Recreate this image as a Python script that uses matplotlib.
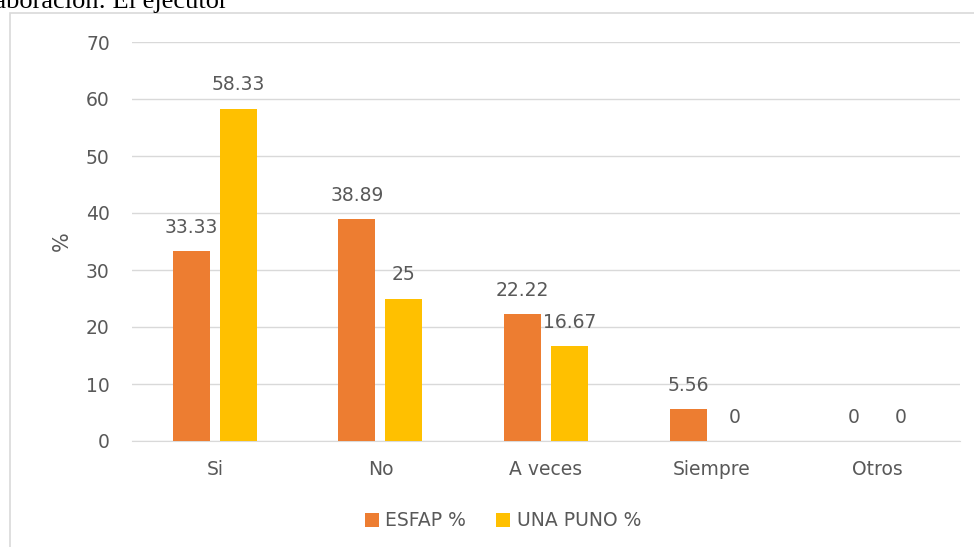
import numpy as np
from matplotlib import pyplot as plt
from matplotlib.patches import Rectangle

categorias = ['Si', 'No', 'A veces', 'Siempre', 'Otros']
esfap = [33.33, 38.89, 22.22, 5.56, 0]
una_puno = [58.33, 25, 16.67, 0, 0]
etiquetas_esfap = ['33.33', '38.89', '22.22', '5.56', '0']
etiquetas_una = ['58.33', '25', '16.67', '0', '0']

gris = '#595959'
naranja = '#ED7D31'
amarillo = '#FFC000'

plt.rcParams['font.family'] = ['DejaVu Sans']

fig = plt.figure(figsize=(9.74, 5.47), dpi=100)

# marco del grafico
fig.patches.append(Rectangle((10 / 974, -0.1), 1.2, 1 - 13 / 547 + 0.1,
                             transform=fig.transFigure, fill=False,
                             edgecolor='#d9d9d9', linewidth=1.2))
fig.text(228 / 974, 1 - 8 / 547, 'Elaboración: El ejecutor', ha='right',
         va='baseline', fontsize=19, family='Liberation Serif', color='black')

ax = fig.add_axes([132 / 974, 1 - 441 / 547, 828 / 974, 399 / 547])

x = np.arange(len(categorias))
ancho = 0.223
desp = 0.142
ax.bar(x - desp, esfap, ancho, color=naranja, label='ESFAP %', zorder=3)
ax.bar(x + desp, una_puno, ancho, color=amarillo, label='UNA PUNO %', zorder=3)

for i in range(len(categorias)):
    ax.annotate(etiquetas_esfap[i], (x[i] - desp, esfap[i]), xytext=(0, 17),
                textcoords='offset points', ha='center', va='center',
                fontsize=13.5, color=gris)
    ax.annotate(etiquetas_una[i], (x[i] + desp, una_puno[i]), xytext=(0, 17),
                textcoords='offset points', ha='center', va='center',
                fontsize=13.5, color=gris)

ax.set_xlim(-0.5, len(categorias) - 0.5)
ax.set_ylim(0, 70)
ax.set_yticks(range(0, 71, 10))
ax.set_xticks(x)
ax.set_xticklabels(categorias)
ax.tick_params(axis='both', length=0, labelsize=13.5, labelcolor=gris)
ax.tick_params(axis='y', pad=16)
ax.tick_params(axis='x', pad=14)
ax.grid(axis='y', color='#d9d9d9', linewidth=1, zorder=0)
for lado in ['top', 'right', 'left']:
    ax.spines[lado].set_visible(False)
ax.spines['bottom'].set_color('#d9d9d9')
ax.set_ylabel('%', fontsize=15, color=gris, labelpad=10)

fig.legend(loc='center', bbox_to_anchor=(503 / 974, 1 - 521 / 547), ncol=2,
           frameon=False, fontsize=13.5, labelcolor=gris, handlelength=0.75,
           handleheight=0.75, handletextpad=0.35, columnspacing=1.6)

fig.savefig('out.png', dpi=100)
